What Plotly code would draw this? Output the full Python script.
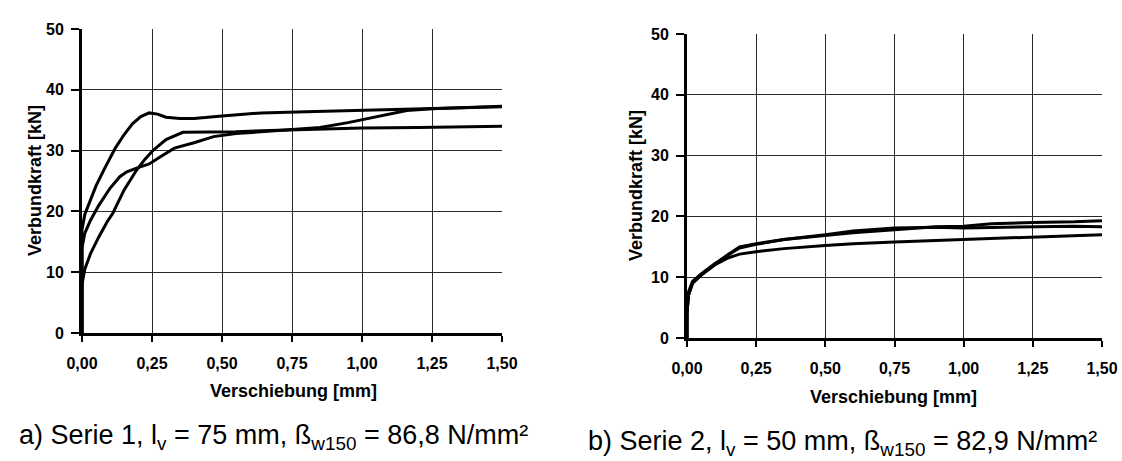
import plotly.graph_objects as go

# ---- data ----
# Serie 1 (left)
s1_a_x = [0, 0, 0.01, 0.03, 0.05, 0.08, 0.10, 0.12, 0.15, 0.18, 0.21, 0.24, 0.27, 0.30, 0.35, 0.40, 0.50, 0.64, 0.80, 1.00, 1.20, 1.50]
s1_a_y = [0, 17, 19.5, 22, 24.2, 27, 28.8, 30.5, 32.6, 34.4, 35.6, 36.2, 36.0, 35.5, 35.3, 35.3, 35.7, 36.2, 36.4, 36.6, 36.9, 37.2]
s1_b_x = [0, 0, 0.01, 0.03, 0.06, 0.10, 0.135, 0.16, 0.20, 0.24, 0.28, 0.33, 0.40, 0.47, 0.55, 0.64, 0.75, 0.85, 0.95, 1.05, 1.16, 1.25, 1.50]
s1_b_y = [0, 14, 16.4, 18.5, 21, 23.8, 25.7, 26.5, 27.2, 27.8, 29, 30.4, 31.3, 32.3, 32.8, 33.1, 33.4, 33.8, 34.6, 35.5, 36.6, 36.9, 37.3]
s1_c_x = [0, 0, 0.01, 0.03, 0.06, 0.09, 0.11, 0.15, 0.195, 0.225, 0.255, 0.30, 0.36, 0.45, 0.55, 0.67, 0.80, 0.90, 1.00, 1.20, 1.50]
s1_c_y = [0, 8, 10.5, 13, 15.8, 18.3, 19.7, 23.5, 26.8, 28.6, 30.1, 31.8, 33.0, 33.0, 33.1, 33.3, 33.5, 33.6, 33.7, 33.8, 34.0]

# Serie 2 (right)
s2_a_x = [0, 0, 0.005, 0.02, 0.05, 0.10, 0.15, 0.19, 0.25, 0.35, 0.50, 0.60, 0.75, 0.90, 1.00, 1.10, 1.25, 1.40, 1.50]
s2_a_y = [0, 4, 7, 9, 10.3, 12, 13.8, 15, 15.5, 16.2, 16.9, 17.3, 17.8, 18.3, 18.4, 18.8, 19.0, 19.1, 19.3]
s2_b_x = [0, 0, 0.005, 0.02, 0.05, 0.10, 0.15, 0.19, 0.25, 0.35, 0.50, 0.60, 0.75, 0.90, 1.00, 1.20, 1.25, 1.40, 1.50]
s2_b_y = [0, 4, 7.5, 9.3, 10.5, 12.2, 13.7, 14.8, 15.4, 16.2, 17.0, 17.6, 18.1, 18.2, 18.1, 18.2, 18.3, 18.4, 18.3]
s2_c_x = [0, 0, 0.005, 0.02, 0.05, 0.10, 0.15, 0.19, 0.25, 0.35, 0.50, 0.60, 0.75, 1.00, 1.25, 1.50]
s2_c_y = [0, 4, 7, 9, 10.3, 12, 13.2, 13.8, 14.2, 14.7, 15.2, 15.5, 15.8, 16.2, 16.6, 17.0]

x_tickvals = [0, 0.25, 0.5, 0.75, 1.0, 1.25, 1.5]
x_ticktext = ["0,00", "0,25", "0,50", "0,75", "1,00", "1,25", "1,50"]
y_tickvals = [0, 10, 20, 30, 40, 50]
y_ticktext = ["0", "10", "20", "30", "40", "50"]

x_title = "Verschiebung [mm]"
y_title = "Verbundkraft [kN]"
caption_a = "a) Serie 1, l<sub>v</sub> = 75 mm, ß<sub>w150</sub> = 86,8 N/mm²"
caption_b = "b) Serie 2, l<sub>v</sub> = 50 mm, ß<sub>w150</sub> = 82,9 N/mm²"

# page is 1122x461; body margin is removed by a small post-script so the figure fills the page
W, H = 1122, 461
OFF = 0
FONT = "Liberation Sans, Arial, sans-serif"

fig = go.Figure()
line = dict(color="black", width=3)
for xs, ys in [(s1_a_x, s1_a_y), (s1_b_x, s1_b_y), (s1_c_x, s1_c_y)]:
    fig.add_trace(go.Scatter(x=xs, y=ys, mode="lines", line=line, xaxis="x", yaxis="y",
                             showlegend=False, hoverinfo="skip"))
for xs, ys in [(s2_a_x, s2_a_y), (s2_b_x, s2_b_y), (s2_c_x, s2_c_y)]:
    fig.add_trace(go.Scatter(x=xs, y=ys, mode="lines", line=line, xaxis="x2", yaxis="y2",
                             showlegend=False, hoverinfo="skip"))


def px_x(p):
    return (p - OFF) / W


def px_y(p):
    return 1 - (p - OFF) / H


xaxis_common = dict(
    range=[0, 1.5], tickvals=x_tickvals, ticktext=x_ticktext,
    showgrid=True, gridcolor="#2a2a2a", gridwidth=1,
    showline=True, linecolor="black", linewidth=3,
    ticks="outside", ticklen=6, tickwidth=2, tickcolor="black",
    tickfont=dict(family=FONT, size=16, color="black", weight="bold"),
    ticklabelstandoff=8, zeroline=False, fixedrange=True, automargin=False,
)
yaxis_common = dict(
    range=[0, 50], tickvals=y_tickvals, ticktext=y_ticktext,
    showgrid=True, gridcolor="#2a2a2a", gridwidth=1,
    showline=True, linecolor="black", linewidth=3,
    ticks="outside", ticklen=8, tickwidth=2, tickcolor="black",
    tickfont=dict(family=FONT, size=16, color="black", weight="bold"),
    ticklabelstandoff=4, zeroline=False, fixedrange=True, automargin=False,
)

fig.update_layout(
    width=W, height=H, autosize=False,
    margin=dict(l=0, r=0, t=0, b=0, pad=0, autoexpand=False),
    paper_bgcolor="white", plot_bgcolor="white",
    font=dict(family=FONT, color="black"),
    xaxis=dict(domain=[px_x(82), px_x(502)], anchor="y", **xaxis_common),
    yaxis=dict(domain=[px_y(333), px_y(29)], anchor="x", **yaxis_common),
    xaxis2=dict(domain=[px_x(687), px_x(1102)], anchor="y2", **xaxis_common),
    yaxis2=dict(domain=[px_y(338), px_y(34)], anchor="x2", **yaxis_common),
)

ann = []


def add_text(text, cx, cy, size, bold=False, angle=0):
    f = dict(family=FONT, size=size, color="black")
    if bold:
        f["weight"] = "bold"
    ann.append(dict(text=text, x=px_x(cx), y=px_y(cy), xref="paper", yref="paper",
                    xanchor="center", yanchor="middle", textangle=angle,
                    showarrow=False, font=f))


# axis titles
add_text(y_title, 35, 181, 18, bold=True, angle=-90)
add_text(y_title, 636, 186, 18, bold=True, angle=-90)
add_text(x_title, 293, 391, 18, bold=True)
add_text(x_title, 893, 397, 18, bold=True)
# captions
add_text(caption_a, 273, 437, 27)
add_text(caption_b, 842, 443, 27)
fig.update_layout(annotations=ann)

fig.write_html(
    "out.html",
    config={"responsive": False, "displayModeBar": False, "staticPlot": True},
    post_script="document.body.style.margin='0';document.body.style.overflow='hidden';",
)
